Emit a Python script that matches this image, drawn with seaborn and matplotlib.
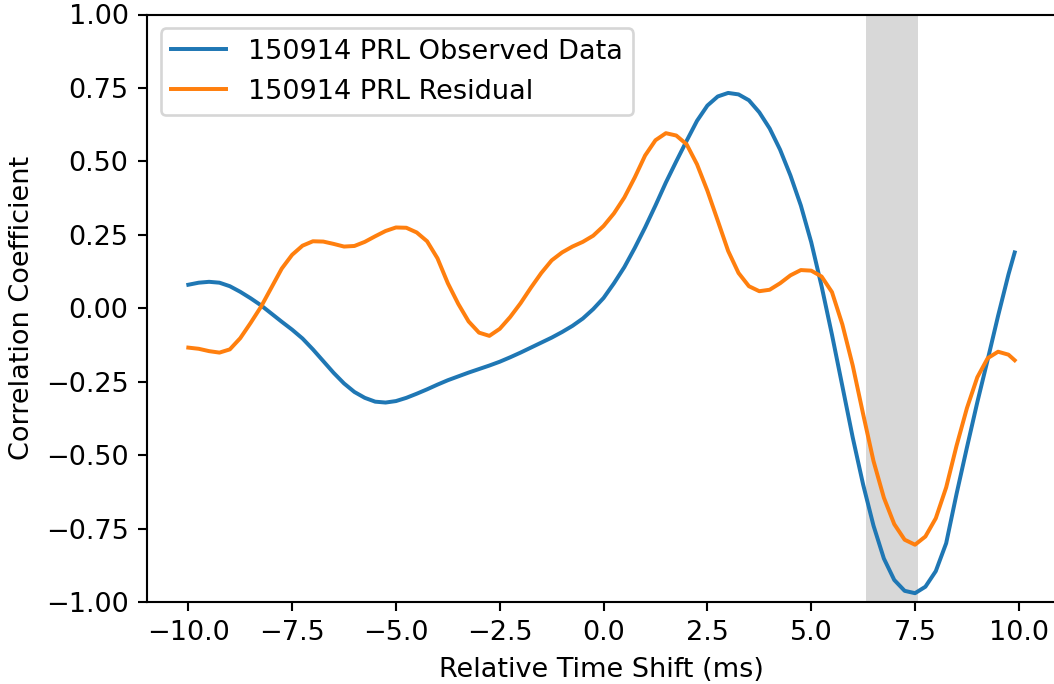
import numpy as np
import pandas as pd
import matplotlib
matplotlib.use("Agg")
import matplotlib.pyplot as plt
import seaborn as sns

plt.rcParams["font.size"] = 10.3

# Time shifts (ms) and correlation values
shift = list(np.arange(-10.0, 9.76, 0.25)) + [9.9]

observed = [
    0.080, 0.087, 0.090, 0.087, 0.075, 0.056, 0.034, 0.010,      # -10.0 .. -8.25
    -0.018, -0.046, -0.073, -0.103, -0.140, -0.180, -0.220, -0.256,  # -8.0 .. -6.25
    -0.285, -0.305, -0.318, -0.321, -0.316, -0.305, -0.291, -0.276,  # -6.0 .. -4.25
    -0.260, -0.245, -0.232, -0.219, -0.207, -0.195, -0.182, -0.167,  # -4.0 .. -2.25
    -0.151, -0.134, -0.117, -0.100, -0.081, -0.060, -0.035, -0.003,  # -2.0 .. -0.25
    0.035, 0.085, 0.140, 0.205, 0.275, 0.350, 0.428, 0.500,       # 0.0 .. 1.75
    0.570, 0.638, 0.690, 0.721, 0.733, 0.728, 0.708, 0.667,       # 2.0 .. 3.75
    0.612, 0.540, 0.452, 0.350, 0.225, 0.075, -0.090, -0.265,     # 4.0 .. 5.75
    -0.440, -0.600, -0.740, -0.852, -0.925, -0.962, -0.970, -0.948,  # 6.0 .. 7.75
    -0.895, -0.800, -0.632, -0.474, -0.320, -0.175, -0.026, 0.115,   # 8.0 .. 9.75
    0.190,                                                         # 9.9
]

residual = [
    -0.134, -0.138, -0.146, -0.151, -0.140, -0.102, -0.050, 0.005,   # -10.0 .. -8.25
    0.070, 0.135, 0.182, 0.213, 0.228, 0.227, 0.219, 0.210,        # -8.0 .. -6.25
    0.212, 0.226, 0.245, 0.263, 0.275, 0.274, 0.258, 0.228,        # -6.0 .. -4.25
    0.170, 0.085, 0.015, -0.045, -0.083, -0.094, -0.070, -0.030,   # -4.0 .. -2.25
    0.017, 0.070, 0.120, 0.163, 0.190, 0.210, 0.226, 0.247,        # -2.0 .. -0.25
    0.280, 0.323, 0.377, 0.445, 0.520, 0.572, 0.596, 0.588,        # 0.0 .. 1.75
    0.558, 0.490, 0.400, 0.298, 0.195, 0.120, 0.075, 0.058,        # 2.0 .. 3.75
    0.063, 0.085, 0.112, 0.130, 0.128, 0.108, 0.055, -0.055,       # 4.0 .. 5.75
    -0.195, -0.360, -0.520, -0.645, -0.735, -0.788, -0.805, -0.777,  # 6.0 .. 7.75
    -0.715, -0.610, -0.468, -0.340, -0.235, -0.170, -0.148, -0.158,  # 8.0 .. 9.75
    -0.177,                                                        # 9.9
]

series_names = ["150914 PRL Observed Data", "150914 PRL Residual"]
peak_window = (6.32, 7.57)

df = pd.DataFrame({
    "shift": shift * 2,
    "corr": observed + residual,
    "series": [series_names[0]] * len(shift) + [series_names[1]] * len(shift),
})

fig = plt.figure(figsize=(1054 / 190, 684 / 190), dpi=190)
ax = fig.add_axes([147 / 1054, 82 / 684, 909 / 1054, 587.5 / 684])

ax.axvspan(*peak_window, color="gray", alpha=0.3, lw=0)
sns.lineplot(data=df, x="shift", y="corr", hue="series", sort=False,
             palette=["tab:blue", "tab:orange"], linewidth=1.5, ax=ax)

ax.set_ylim(-1, 1)
ax.set_yticks(np.arange(-1.0, 1.01, 0.25))
ax.set_xlabel("Relative Time Shift (ms)")
ax.set_ylabel("Correlation Coefficient")
ax.legend(loc="upper left")

fig.savefig("out.png", dpi=190)
